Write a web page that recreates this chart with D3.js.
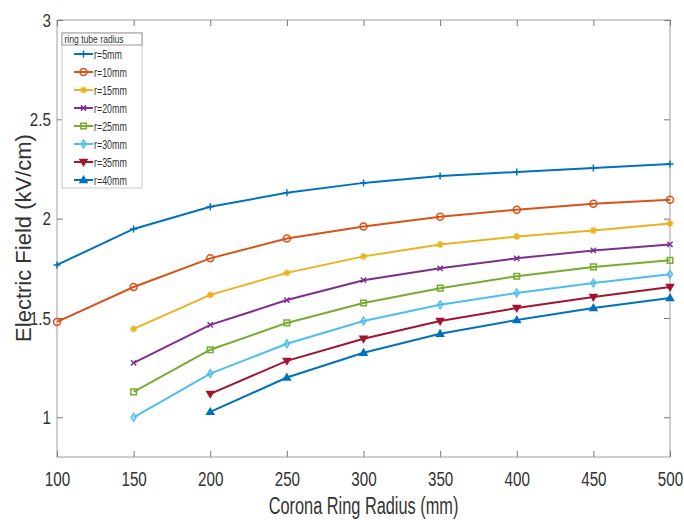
<!DOCTYPE html>
<html>
<head>
<meta charset="utf-8">
<script src="https://cdn.jsdelivr.net/npm/d3@7"></script>
<style>
  body { margin: 0; background: #fff; }
  text { font-family: "Liberation Sans", Arial, sans-serif; }
</style>
</head>
<body>
<div class="chart"></div>
<script>
// data
var ringRadius = [100, 150, 200, 250, 300, 350, 400, 450, 500];
var r5  = [1.767, 1.948, 2.06, 2.13, 2.18, 2.215, 2.235, 2.255, 2.275];
var r10 = [1.48, 1.656, 1.80, 1.90, 1.96, 2.01, 2.045, 2.075, 2.095];
var r15 = [null, 1.445, 1.616, 1.727, 1.81, 1.87, 1.91, 1.94, 1.975];
var r20 = [null, 1.274, 1.465, 1.59, 1.69, 1.75, 1.80, 1.84, 1.87];
var r25 = [null, 1.128, 1.34, 1.475, 1.575, 1.65, 1.71, 1.757, 1.79];
var r30 = [null, 1.0, 1.22, 1.37, 1.485, 1.566, 1.626, 1.676, 1.72];
var r35 = [null, null, 1.118, 1.284, 1.395, 1.485, 1.55, 1.606, 1.656];
var r40 = [null, null, 1.027, 1.20, 1.325, 1.42, 1.49, 1.55, 1.60];
var seriesNames = ["r=5mm", "r=10mm", "r=15mm", "r=20mm", "r=25mm", "r=30mm", "r=35mm", "r=40mm"];
var xTicks = [100, 150, 200, 250, 300, 350, 400, 450, 500];
var yTicks = [1, 1.5, 2, 2.5, 3];

var series = [r5, r10, r15, r20, r25, r30, r35, r40];
var colors = ["#0072BD", "#D95319", "#EDB120", "#7E2F8E", "#77AC30", "#4DBEEE", "#A2142F", "#0072BD"];
var markers = ["plus", "circle", "star", "cross", "square", "diamond", "tridown", "triup"];

var svgWidth = 684;
var svgHeight = 520;
var margin = { top: 20, right: 14, bottom: 63, left: 57 };
var width = svgWidth - margin.left - margin.right;
var height = svgHeight - margin.top - margin.bottom;

var svg = d3.select(".chart")
  .append("svg")
  .attr("width", svgWidth)
  .attr("height", svgHeight);

var chartGroup = svg.append("g")
  .attr("transform", `translate(${margin.left}, ${margin.top})`);

var xScale = d3.scaleLinear().domain([100, 500]).range([0, width]);
var yScale = d3.scaleLinear().domain([0.8, 3]).range([height, 0]);

var axisColor = "#b0b0b0";
var textColor = "#333";

// the reference font is a narrow one, squeeze text horizontally
function squeeze(sel, k) {
  sel.each(function() {
    var w = this.getComputedTextLength();
    d3.select(this).attr("textLength", w * k).attr("lengthAdjust", "spacingAndGlyphs");
  });
}

// box
chartGroup.append("rect")
  .attr("width", width)
  .attr("height", height)
  .attr("fill", "none")
  .attr("stroke", axisColor)
  .attr("stroke-width", 1.2);

// axes (inward ticks like matlab)
var bottomAxis = d3.axisBottom(xScale).tickValues(xTicks).tickSize(-6).tickPadding(15).tickFormat(d3.format("d"));
var leftAxis = d3.axisLeft(yScale).tickValues(yTicks).tickSize(-6).tickPadding(6).tickFormat(d => d3.format("")(d));
var topAxis = d3.axisTop(xScale).tickValues(xTicks).tickSize(-6).tickFormat("");
var rightAxis = d3.axisRight(yScale).tickValues(yTicks).tickSize(-6).tickFormat("");

function styleAxis(g, size) {
  g.select(".domain").remove();
  g.selectAll(".tick line").attr("stroke", "#777").attr("stroke-width", 1);
  g.selectAll(".tick text")
    .attr("fill", textColor)
    .style("font-family", "'Liberation Sans', Arial, sans-serif")
    .style("font-size", size + "px");
}

var xAxisG = chartGroup.append("g").attr("transform", `translate(0, ${height})`).call(bottomAxis).call(styleAxis, 20);
var yAxisG = chartGroup.append("g").call(leftAxis).call(styleAxis, 19);
chartGroup.append("g").call(topAxis).call(styleAxis, 10);
chartGroup.append("g").attr("transform", `translate(${width}, 0)`).call(rightAxis).call(styleAxis, 10);
squeeze(xAxisG.selectAll(".tick text"), 0.76);
squeeze(yAxisG.selectAll(".tick text"), 0.8);

// marker shapes
function markerPath(type, s) {
  var h = s / 2;
  switch (type) {
    case "plus": return `M${-h},0H${h}M0,${-h}V${h}`;
    case "circle": return `M${h},0A${h},${h} 0 1,1 ${-h},0A${h},${h} 0 1,1 ${h},0Z`;
    case "star": return `M${-h},0H${h}M0,${-h}V${h}M${-h*0.7},${-h*0.7}L${h*0.7},${h*0.7}M${-h*0.7},${h*0.7}L${h*0.7},${-h*0.7}`;
    case "cross": return `M${-h*0.75},${-h*0.75}L${h*0.75},${h*0.75}M${-h*0.75},${h*0.75}L${h*0.75},${-h*0.75}`;
    case "square": return `M${-h*0.8},${-h*0.8}H${h*0.8}V${h*0.8}H${-h*0.8}Z`;
    case "diamond": return `M0,${-h*1.1}L${h*0.7},0L0,${h*1.1}L${-h*0.7},0Z`;
    case "tridown": return `M${-h},${-h*0.7}H${h}L0,${h}Z`;
    case "triup": return `M${-h},${h*0.7}H${h}L0,${-h}Z`;
  }
}
function markerFill(type, c) {
  return (type == "tridown" || type == "triup" || type == "star") ? c : "none";
}

var line = d3.line()
  .defined(d => d.y != null)
  .x(d => xScale(d.x))
  .y(d => yScale(d.y));

series.forEach(function(vals, i) {
  var pts = ringRadius.map((x, j) => ({ x: x, y: vals[j] }));
  var g = chartGroup.append("g");
  g.append("path")
    .datum(pts)
    .attr("d", line)
    .attr("fill", "none")
    .attr("stroke", colors[i])
    .attr("stroke-width", 2);
  g.selectAll(".mk")
    .data(pts.filter(d => d.y != null))
    .enter()
    .append("path")
    .attr("transform", d => `translate(${xScale(d.x)}, ${yScale(d.y)})`)
    .attr("d", markerPath(markers[i], 7))
    .attr("fill", markerFill(markers[i], colors[i]))
    .attr("stroke", colors[i])
    .attr("stroke-width", 1.5);
});

// legend
var legend = svg.append("g").attr("transform", "translate(62, 33)");
legend.append("rect")
  .attr("width", 80).attr("height", 155)
  .attr("fill", "#fff").attr("stroke", "#c8c8c8");
legend.append("rect")
  .attr("width", 80).attr("height", 12)
  .attr("fill", "#fff").attr("stroke", "#999");
legend.append("text")
  .attr("x", 2.5).attr("y", 10)
  .attr("fill", textColor)
  .style("font-size", "11px")
  .text("ring tube radius")
  .call(squeeze, 0.78);

seriesNames.forEach(function(name, i) {
  var y = 21 + i * 18;
  var row = legend.append("g").attr("transform", `translate(0, ${y})`);
  row.append("line")
    .attr("x1", 12).attr("x2", 31)
    .attr("stroke", colors[i]).attr("stroke-width", 2);
  row.append("path")
    .attr("transform", "translate(21.5, 0)")
    .attr("d", markerPath(markers[i], 7))
    .attr("fill", markerFill(markers[i], colors[i]))
    .attr("stroke", colors[i])
    .attr("stroke-width", 1.5);
  row.append("text")
    .attr("x", 32).attr("y", 4.5)
    .attr("fill", textColor)
    .style("font-size", "12px")
    .text(name)
    .call(squeeze, 0.74);
});

// axis labels
svg.append("text")
  .attr("x", margin.left + width / 2)
  .attr("y", 514)
  .attr("text-anchor", "middle")
  .attr("fill", textColor)
  .style("font-size", "23px")
  .text("Corona Ring Radius (mm)")
  .call(squeeze, 0.71);

svg.append("text")
  .attr("transform", `translate(31, 238) rotate(-90)`)
  .attr("text-anchor", "middle")
  .attr("fill", textColor)
  .style("font-size", "22px")
  .text("Electric Field (kV/cm)");
</script>
</body>
</html>
